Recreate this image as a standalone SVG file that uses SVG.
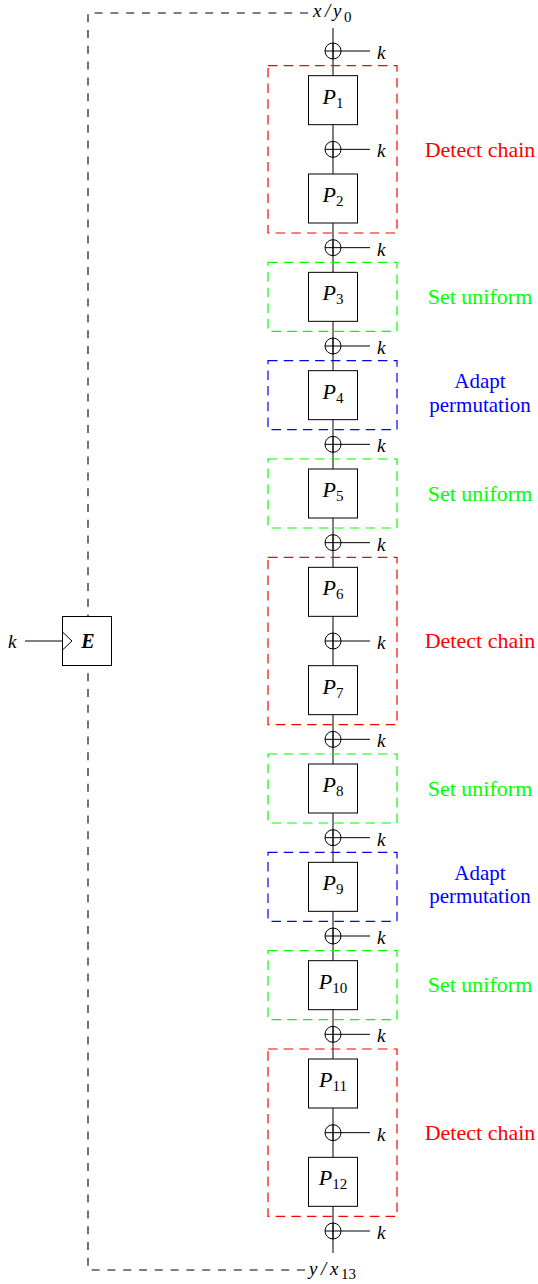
<svg xmlns="http://www.w3.org/2000/svg" width="538" height="1284" viewBox="0 0 538 1284">
  <style>
    .wire{fill:none;stroke:#000;stroke-width:1}
    .loop{fill:none;stroke:#000;stroke-width:1.1;stroke-dasharray:8 7.8}
    .box{fill:#fff;stroke:#000;stroke-width:1}
    .frame{fill:none;stroke-width:1.2;stroke-dasharray:9.5 6.2}
    .red{stroke:#ff0000}
    .green{stroke:#00ff00}
    .blue{stroke:#0000ff}
    text{font-family:"Liberation Serif","Times New Roman",serif}
    .math{font-style:italic;fill:#000}
    .p{font-size:22px;text-anchor:middle}
    .sub{font-size:15px;font-style:normal}
    .key{font-size:19px}
    .lbl{font-size:22px;text-anchor:middle}
    .lbl2{font-size:21px;text-anchor:middle}
  </style>
  <defs>
    <!-- XOR with key input to the right -->
    <g id="xor-sym">
      <circle cx="0" cy="0" r="8" fill="none" stroke="#000" stroke-width="1"/>
      <path d="M-8 0H8M0 -8V8M8 0H37" fill="none" stroke="#000" stroke-width="1"/>
    </g>
  </defs>
  <rect width="538" height="1284" fill="#fff"/>

  <!-- connectors -->
  <g id="connectors">
    <path class="wire" d="M333 28V1253"/>
    <path class="loop" d="M308 13H88V616"/>
    <path class="loop" d="M305 1270H88V666"/>
    <path class="wire" d="M25 641H62"/>
  </g>

  <!-- stage frames -->
  <g id="frames">
    <rect class="frame red" x="268" y="65.7" width="129" height="167.3"/>
    <rect class="frame green" x="268" y="262.3" width="129" height="69"/>
    <rect class="frame blue" x="268" y="360.7" width="129" height="69"/>
    <rect class="frame green" x="268" y="459" width="129" height="69"/>
    <rect class="frame red" x="268" y="557.3" width="129" height="167.4"/>
    <rect class="frame green" x="268" y="754" width="129" height="69"/>
    <rect class="frame blue" x="268" y="852.3" width="129" height="69"/>
    <rect class="frame green" x="268" y="950.7" width="129" height="69"/>
    <rect class="frame red" x="268" y="1049" width="129" height="167.3"/>
  </g>

  <!-- input / output -->
  <g id="input">
    <text class="math key" y="17"><tspan x="313">x</tspan><tspan x="325">/</tspan><tspan x="333">y</tspan><tspan x="344" class="sub" font-size="14" dy="5">0</tspan></text>
  </g>
  <g id="output">
    <text class="math key" y="1275"><tspan x="309">y</tspan><tspan x="321">/</tspan><tspan x="330">x</tspan><tspan x="341" class="sub" font-size="14" dy="4">13</tspan></text>
  </g>

  <!-- cipher E -->
  <g id="cipher-E">
    <rect class="box" x="62.5" y="616.5" width="49" height="49"/>
    <path class="wire" d="M62.5 632L72 641L62.5 650"/>
    <text x="88" y="648" font-size="20" font-style="italic" font-weight="bold" text-anchor="middle">E</text>
    <text class="math key" x="8" y="648">k</text>
  </g>

  <!-- key additions -->
  <g id="xor0"><use href="#xor-sym" x="333" y="51"/><text class="math key" x="377" y="59">k</text></g>
  <g id="xor1"><use href="#xor-sym" x="333" y="149.33"/><text class="math key" x="377" y="157.33">k</text></g>
  <g id="xor2"><use href="#xor-sym" x="333" y="247.67"/><text class="math key" x="377" y="255.67">k</text></g>
  <g id="xor3"><use href="#xor-sym" x="333" y="346"/><text class="math key" x="377" y="354">k</text></g>
  <g id="xor4"><use href="#xor-sym" x="333" y="444.33"/><text class="math key" x="377" y="452.33">k</text></g>
  <g id="xor5"><use href="#xor-sym" x="333" y="542.67"/><text class="math key" x="377" y="550.67">k</text></g>
  <g id="xor6"><use href="#xor-sym" x="333" y="641"/><text class="math key" x="377" y="649">k</text></g>
  <g id="xor7"><use href="#xor-sym" x="333" y="739.33"/><text class="math key" x="377" y="747.33">k</text></g>
  <g id="xor8"><use href="#xor-sym" x="333" y="837.67"/><text class="math key" x="377" y="845.67">k</text></g>
  <g id="xor9"><use href="#xor-sym" x="333" y="936"/><text class="math key" x="377" y="944">k</text></g>
  <g id="xor10"><use href="#xor-sym" x="333" y="1034.33"/><text class="math key" x="377" y="1042.33">k</text></g>
  <g id="xor11"><use href="#xor-sym" x="333" y="1132.67"/><text class="math key" x="377" y="1140.67">k</text></g>
  <g id="xor12"><use href="#xor-sym" x="333" y="1231"/><text class="math key" x="377" y="1239">k</text></g>

  <!-- permutation rounds -->
  <g id="P1"><rect class="box" x="308.5" y="75.67" width="49" height="49"/><text class="math p" x="333" y="103.67">P<tspan class="sub" dy="4">1</tspan></text></g>
  <g id="P2"><rect class="box" x="308.5" y="174" width="49" height="49"/><text class="math p" x="333" y="202">P<tspan class="sub" dy="4">2</tspan></text></g>
  <g id="P3"><rect class="box" x="308.5" y="272.33" width="49" height="49"/><text class="math p" x="333" y="300.33">P<tspan class="sub" dy="4">3</tspan></text></g>
  <g id="P4"><rect class="box" x="308.5" y="370.67" width="49" height="49"/><text class="math p" x="333" y="398.67">P<tspan class="sub" dy="4">4</tspan></text></g>
  <g id="P5"><rect class="box" x="308.5" y="469" width="49" height="49"/><text class="math p" x="333" y="497">P<tspan class="sub" dy="4">5</tspan></text></g>
  <g id="P6"><rect class="box" x="308.5" y="567.33" width="49" height="49"/><text class="math p" x="333" y="595.33">P<tspan class="sub" dy="4">6</tspan></text></g>
  <g id="P7"><rect class="box" x="308.5" y="665.67" width="49" height="49"/><text class="math p" x="333" y="693.67">P<tspan class="sub" dy="4">7</tspan></text></g>
  <g id="P8"><rect class="box" x="308.5" y="764" width="49" height="49"/><text class="math p" x="333" y="792">P<tspan class="sub" dy="4">8</tspan></text></g>
  <g id="P9"><rect class="box" x="308.5" y="862.33" width="49" height="49"/><text class="math p" x="333" y="890.33">P<tspan class="sub" dy="4">9</tspan></text></g>
  <g id="P10"><rect class="box" x="308.5" y="960.67" width="49" height="49"/><text class="math p" x="333" y="988.67">P<tspan class="sub" dy="4">10</tspan></text></g>
  <g id="P11"><rect class="box" x="308.5" y="1059" width="49" height="49"/><text class="math p" x="333" y="1087">P<tspan class="sub" dy="4">11</tspan></text></g>
  <g id="P12"><rect class="box" x="308.5" y="1157.33" width="49" height="49"/><text class="math p" x="333" y="1185.33">P<tspan class="sub" dy="4">12</tspan></text></g>

  <!-- stage labels -->
  <g id="labels">
    <text class="lbl" x="480" y="156.5" fill="#ff0000">Detect chain</text>
    <text class="lbl" x="480" y="304" fill="#00ff00">Set uniform</text>
    <text class="lbl2" x="480" y="388" fill="#0000ff">Adapt</text>
    <text class="lbl2" x="480" y="411.5" fill="#0000ff">permutation</text>
    <text class="lbl" x="480" y="500.5" fill="#00ff00">Set uniform</text>
    <text class="lbl" x="480" y="648" fill="#ff0000">Detect chain</text>
    <text class="lbl" x="480" y="795.5" fill="#00ff00">Set uniform</text>
    <text class="lbl2" x="480" y="879.5" fill="#0000ff">Adapt</text>
    <text class="lbl2" x="480" y="903" fill="#0000ff">permutation</text>
    <text class="lbl" x="480" y="992" fill="#00ff00">Set uniform</text>
    <text class="lbl" x="480" y="1140" fill="#ff0000">Detect chain</text>
  </g>
</svg>
